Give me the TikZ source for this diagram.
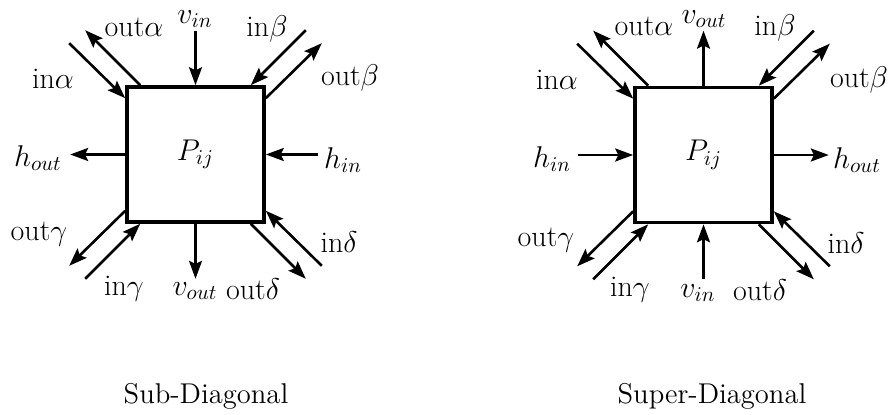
\RequirePackage{fix-cm}
\documentclass[tikz,border=0pt]{standalone}
\usetikzlibrary{arrows.meta, calc}

\begin{document}
\begin{tikzpicture}[x=0.5pt, y=-0.5pt, >={Stealth[length=9pt, width=6.5pt, inset=1.6pt]},
  every node/.style={font=\fontsize{15}{18}\selectfont},
  cell/.style={draw, line width=1.8pt, minimum width=68.5pt, minimum height=67.5pt, inner sep=0pt},
  flow/.style={->, line width=1.3pt},
  capt/.style={font=\fontsize{14.3}{17}\selectfont}]
  \useasboundingbox (0,0) rectangle (888,415);

  % Sub-Diagonal
  \node[cell] (sub) at (195.5,154.5) {$P_{ij}$};
  \path (sub.north west) +(0,13) coordinate (sub-ina-e) +(-56,-42) coordinate (sub-ina-s)
        +(15,0) coordinate (sub-outa-s) +(-40,-55) coordinate (sub-outa-e);
  \path (sub.north east) +(-15,0) coordinate (sub-inb-e) +(40,-55) coordinate (sub-inb-s)
        +(0,13) coordinate (sub-outb-s) +(56,-42) coordinate (sub-outb-e);
  \path (sub.south west) +(0,-13) coordinate (sub-outg-s) +(-56,42) coordinate (sub-outg-e)
        +(15,0) coordinate (sub-ing-e) +(-40,55) coordinate (sub-ing-s);
  \path (sub.south east) +(-15,0) coordinate (sub-outd-s) +(40,55) coordinate (sub-outd-e)
        +(0,-13) coordinate (sub-ind-e) +(56,42) coordinate (sub-ind-s);
  \coordinate (sub-vin) at ($(sub.north)+(0,-54)$);
  \coordinate (sub-vout) at ($(sub.south)+(0,55)$);
  \coordinate (sub-hout) at ($(sub.west)+(-55,0)$);
  \coordinate (sub-hin) at ($(sub.east)+(52,0)$);
  \draw[flow] (sub-ina-s) -- (sub-ina-e);
  \draw[flow] (sub-outa-s) -- (sub-outa-e);
  \draw[flow] (sub-inb-s) -- (sub-inb-e);
  \draw[flow] (sub-outb-s) -- (sub-outb-e);
  \draw[flow] (sub-outg-s) -- (sub-outg-e);
  \draw[flow] (sub-ing-s) -- (sub-ing-e);
  \draw[flow] (sub-outd-s) -- (sub-outd-e);
  \draw[flow] (sub-ind-s) -- (sub-ind-e);
  \draw[flow] (sub-vin) -- (sub.north);
  \draw[flow] (sub.south) -- (sub-vout);
  \draw[flow] (sub.west) -- (sub-hout);
  \draw[flow] (sub-hin) -- (sub.east);
  \node (sub-l-outa) at (134,27) {out$\alpha$};
  \node (sub-l-vin) at (195,19) {$v_{in}$};
  \node (sub-l-inb) at (267,29) {in$\beta$};
  \node (sub-l-ina) at (53,79) {in$\alpha$};
  \node (sub-l-outb) at (350,78) {out$\beta$};
  \node (sub-l-hout) at (38,158) {$h_{out}$};
  \node (sub-l-hin) at (343,160) {$h_{in}$};
  \node (sub-l-outg) at (39,234) {out$\gamma$};
  \node (sub-l-ind) at (339,242) {in$\delta$};
  \node (sub-l-ing) at (124,289) {in$\gamma$};
  \node (sub-l-vout) at (195,291) {$v_{out}$};
  \node (sub-l-outd) at (253,289) {out$\delta$};
  \node[capt] (sub-title) at (206,396) {Sub-Diagonal};

  % Super-Diagonal
  \node[cell] (sup) at (703.5,155) {$P_{ij}$};
  \path (sup.north west) +(0,13) coordinate (sup-ina-e) +(-56,-42) coordinate (sup-ina-s)
        +(15,0) coordinate (sup-outa-s) +(-40,-55) coordinate (sup-outa-e);
  \path (sup.north east) +(-15,0) coordinate (sup-inb-e) +(40,-55) coordinate (sup-inb-s)
        +(0,13) coordinate (sup-outb-s) +(56,-42) coordinate (sup-outb-e);
  \path (sup.south west) +(0,-13) coordinate (sup-outg-s) +(-56,42) coordinate (sup-outg-e)
        +(15,0) coordinate (sup-ing-e) +(-40,55) coordinate (sup-ing-s);
  \path (sup.south east) +(-15,0) coordinate (sup-outd-s) +(40,55) coordinate (sup-outd-e)
        +(0,-13) coordinate (sup-ind-e) +(56,42) coordinate (sup-ind-s);
  \coordinate (sup-vout) at ($(sup.north)+(0,-55)$);
  \coordinate (sup-vin) at ($(sup.south)+(0,55)$);
  \coordinate (sup-hin) at ($(sup.west)+(-55,0)$);
  \coordinate (sup-hout) at ($(sup.east)+(55,0)$);
  \draw[flow] (sup-ina-s) -- (sup-ina-e);
  \draw[flow] (sup-outa-s) -- (sup-outa-e);
  \draw[flow] (sup-inb-s) -- (sup-inb-e);
  \draw[flow] (sup-outb-s) -- (sup-outb-e);
  \draw[flow] (sup-outg-s) -- (sup-outg-e);
  \draw[flow] (sup-ing-s) -- (sup-ing-e);
  \draw[flow] (sup-outd-s) -- (sup-outd-e);
  \draw[flow] (sup-ind-s) -- (sup-ind-e);
  \draw[flow] (sup.north) -- (sup-vout);
  \draw[flow] (sup-vin) -- (sup.south);
  \draw[flow] (sup-hin) -- (sup.west);
  \draw[flow] (sup.east) -- (sup-hout);
  \node (sup-l-outa) at (644,26) {out$\alpha$};
  \node (sup-l-vout) at (704,19) {$v_{out}$};
  \node (sup-l-inb) at (775,28) {in$\beta$};
  \node (sup-l-ina) at (557,80) {in$\alpha$};
  \node (sup-l-outb) at (859,80) {out$\beta$};
  \node (sup-l-hin) at (552,159) {$h_{in}$};
  \node (sup-l-hout) at (857,160) {$h_{out}$};
  \node (sup-l-outg) at (546,240) {out$\gamma$};
  \node (sup-l-ind) at (846,243) {in$\delta$};
  \node (sup-l-ing) at (630,290) {in$\gamma$};
  \node (sup-l-vin) at (698,293) {$v_{in}$};
  \node (sup-l-outd) at (760,290) {out$\delta$};
  \node[capt] (sup-title) at (712,396) {Super-Diagonal};
\end{tikzpicture}
\end{document}
